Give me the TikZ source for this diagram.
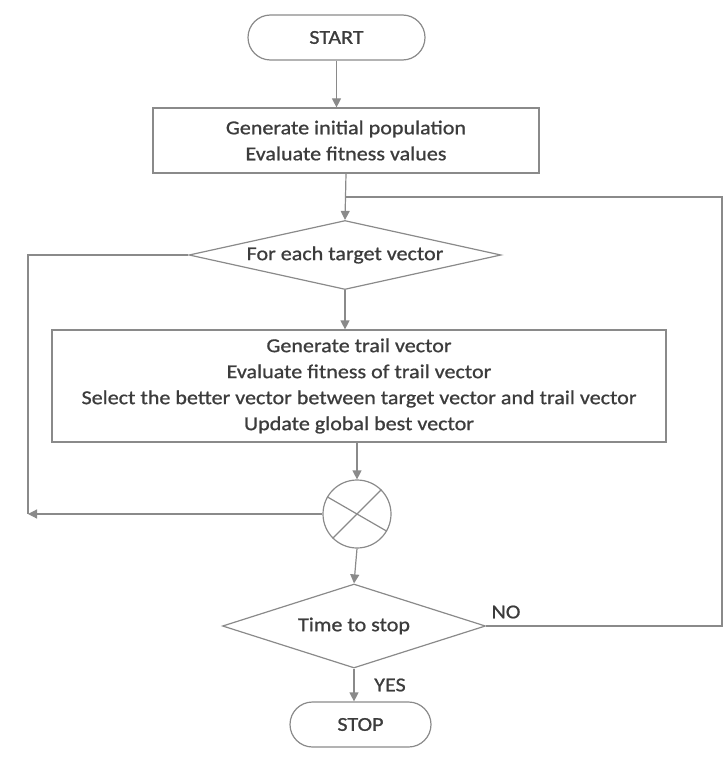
\documentclass[tikz,border=0pt]{standalone}
\usepackage{fontspec}
\setmainfont[FakeStretch=1.12,FakeBold=0.9]{Carlito}
\usetikzlibrary{shapes.geometric,shapes.misc,arrows.meta}
\definecolor{linegray}{HTML}{8A8A8A}
\definecolor{textgray}{HTML}{3C3C3C}
\tikzset{
  every node/.style={font=\fontsize{19.7}{26}\selectfont, text=textgray},
  box/.style={draw=linegray, line width=1.2pt, rectangle, inner sep=0pt, align=center},
  term/.style={draw=linegray, line width=1.2pt, rounded rectangle, inner sep=0pt},
  decision/.style={draw=linegray, line width=1.2pt, diamond, inner sep=0pt},
  junction/.style={draw=linegray, line width=1.2pt, circle, inner sep=0pt, minimum size=68pt},
  conn/.style={draw=linegray, line width=1.2pt},
  arr/.style={conn, -{Triangle[length=9pt,width=9pt]}},
}
\begin{document}
\begin{tikzpicture}[x=1pt,y=-1pt]
\useasboundingbox (0,0) rectangle (724,765);
\node[term, minimum width=177pt, minimum height=45pt] (start) at (336.5,37.5) {START};
\node[box, minimum width=386pt, minimum height=65pt] (gen) at (346,140.5) {Generate initial population\\Evaluate fitness values};
\node[decision, aspect=4.52, minimum width=312pt, minimum height=69pt] (d1) at (345,255) {For each target vector};
\node[box, minimum width=614pt, minimum height=112pt] (loop) at (359,386) {Generate trail vector\\Evaluate fitness of trail vector\\Select the better vector between target vector and trail vector\\Update global best vector};
\node[junction] (circ) at (357,514) {};
\node[decision, aspect=3.13, minimum width=263pt, minimum height=84pt] (d2) at (354,626) {Time to stop};
\node[term, minimum width=141pt, minimum height=45pt] (stop) at (360.5,724.5) {STOP};
\node (no) at (506,612) {NO};
\node (yes) at (390,685) {YES};
\coordinate (rtop) at (722,197);
\coordinate (lb) at (28,514);
% cross in junction
\draw[conn] (circ.150) -- (circ.-30);
\draw[conn] (circ.45) -- (circ.225);
% connectors
\draw[arr] (start.south) -- (start.south |- gen.north);
\draw[arr] (gen.south) -- (d1.north);
\draw[arr] (d1.south) -- (d1.south |- loop.north);
\draw[arr] (loop.south -| circ.north) -- (circ.north);
\draw[arr] (circ.south) -- (d2.north);
\draw[arr] (d2.south) -- (d2.south |- stop.north);
\draw[conn] (d2.east) -- (d2.east -| rtop) -- (rtop) -- (gen.south |- rtop);
\draw[conn] (d1.west) -| (lb);
\draw[arr] (circ.west) -- (lb);
\end{tikzpicture}
\end{document}
